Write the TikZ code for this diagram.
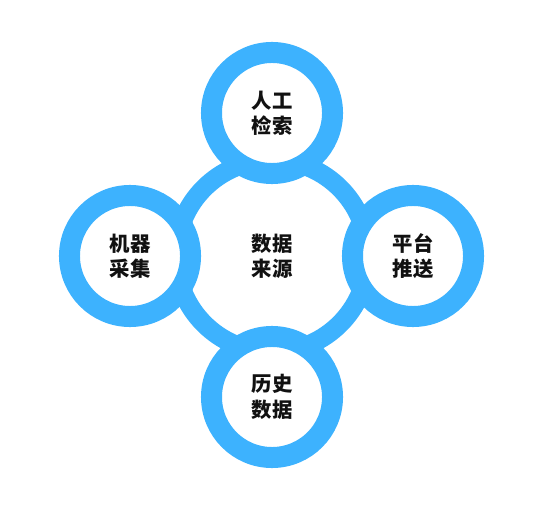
\documentclass[tikz,border=0pt]{standalone}
\usepackage{fontspec}
\usepackage{xcolor}
\usepackage{tikz}
\newfontfamily\cjk{Noto Sans CJK SC}
\definecolor{ring}{HTML}{3DB2FE}
\definecolor{ink}{HTML}{111111}
\tikzset{
  hub/.style={
    circle, draw=ring, fill=white, line width=0.475cm,
    minimum size=4.8cm, align=center, inner sep=0pt,
    font=\cjk\bfseries\fontsize{14.5}{18}\selectfont\color{ink}},
  source/.style={
    hub, line width=0.525cm, minimum size=3.025cm},
}
\begin{document}
\begin{tikzpicture}[x=0.025cm, y=-0.025cm]
  \useasboundingbox (0,0) rectangle (544,510);
  \node[hub] (data) at (272,256) {数据\\来源};
  \node[source] (manual) at (272,113) {人工\\检索};
  \node[source] (machine) at (130,256) {机器\\采集};
  \node[source] (platform) at (413,256) {平台\\推送};
  \node[source] (history) at (272,397) {历史\\数据};
\end{tikzpicture}
\end{document}
